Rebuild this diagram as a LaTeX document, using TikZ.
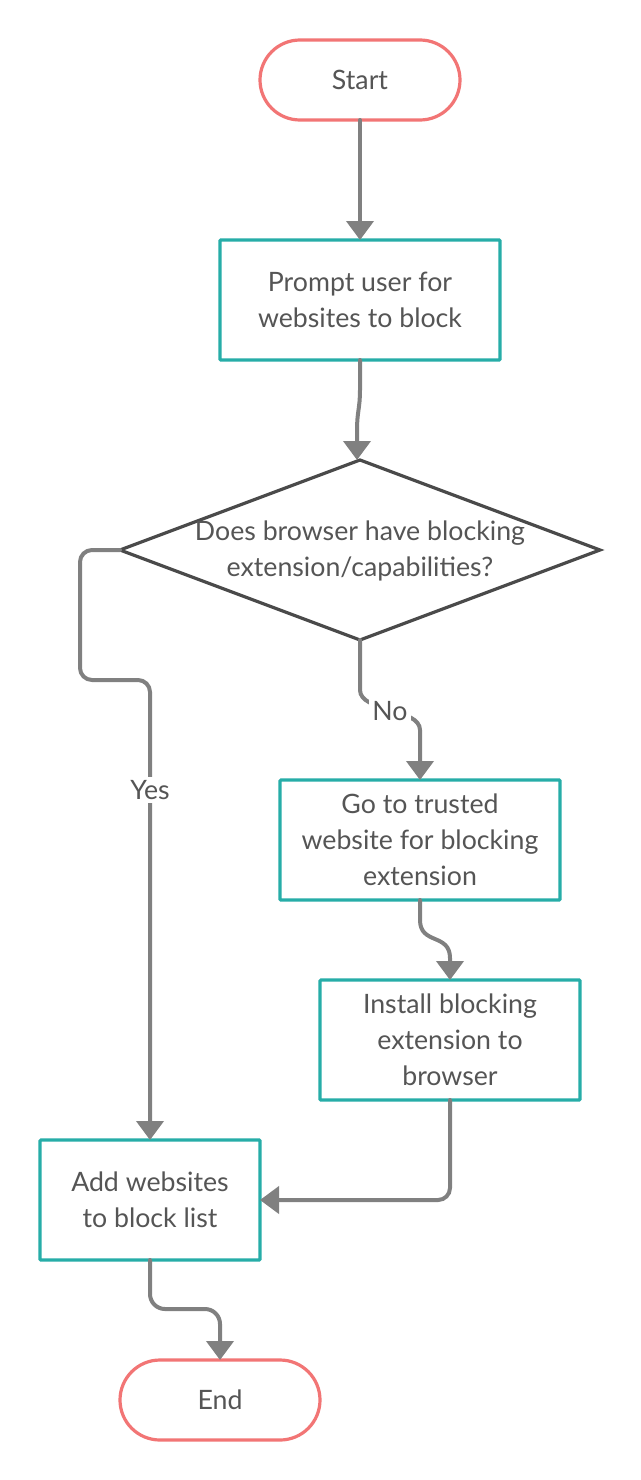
\documentclass[tikz,border=0pt]{standalone}
\usepackage{fontspec}
\setmainfont{Lato}
\usetikzlibrary{arrows.meta,shapes.geometric}
\definecolor{termred}{HTML}{F27575}
\definecolor{procteal}{HTML}{26ADA8}
\definecolor{conngray}{HTML}{808080}
\definecolor{diagray}{HTML}{4A4A4A}
\definecolor{txtgray}{HTML}{555555}
\begin{document}
\begin{tikzpicture}[x=1pt,y=-1pt,
  every node/.style={font=\fontsize{26.7}{36}\selectfont, text=txtgray},
  term/.style={draw=termred, line width=3.2pt, rounded corners=40pt, minimum width=200pt, minimum height=80pt, outer sep=0pt, inner sep=0pt},
  proc/.style={draw=procteal, line width=3.2pt, rounded corners=1pt, minimum height=120pt, outer sep=0pt, inner sep=0pt, align=center},
  dec/.style={draw=diagray, line width=3.2pt, shape=diamond, minimum width=480pt, minimum height=180pt, inner sep=0pt, outer sep=0pt},
  conn/.style={draw=conngray, line width=4pt, line cap=round, -{Triangle[width=27pt,length=19pt]}},
  lbl/.style={fill=white, inner sep=3pt}
]
\fill[white] (0,0) rectangle (640,1480);
\useasboundingbox (0,0) rectangle (640,1480);

\node[term] (start) at (360,80) {Start};
\node[proc, minimum width=280pt] (b1) at (360,300) {Prompt user for\\websites to block};
\node[dec] (dia) at (360,550) {};
\node[align=center] (diatext) at (360,551) {Does browser have blocking\\extension/capabilities?};
\node[proc, minimum width=280pt] (b2) at (420,840) {Go to trusted\\website for blocking\\extension};
\node[proc, minimum width=260pt] (b3) at (450,1040) {Install blocking\\extension to\\browser};
\node[proc, minimum width=220pt] (b4) at (150,1200) {Add websites\\to block list};
\node[term] (end) at (220,1400) {End};

\draw[conn] (start.south) -- (b1.north);
\draw[conn] (b1.south) -- ++(0,30) .. controls +(0,18) and +(0,-18) .. ([xshift=-3pt,yshift=30pt]dia.north) -- ([xshift=-3pt]dia.north);
\draw[conn, rounded corners=12pt] (dia.west) -| ++(-40,130) -| (b4.north);
\node[lbl] (yes) at (150,790) {Yes};
\draw[conn] (dia.south) -- ++(0,50) .. controls +(0,22) and +(0,-22) .. ([yshift=50pt]b2.north) -- (b2.north);
\node[lbl] (no) at (390,711) {No};
\draw[conn] (b2.south) -- ++(0,20) .. controls +(0,25) and +(0,-25) .. ([yshift=22pt]b3.north) -- (b3.north);
\draw[conn, rounded corners=12pt] (b3.south) |- (b4.east);
\draw[conn, rounded corners=15pt] (b4.south) -- ++(0,49) -| (end.north);
\end{tikzpicture}
\end{document}
